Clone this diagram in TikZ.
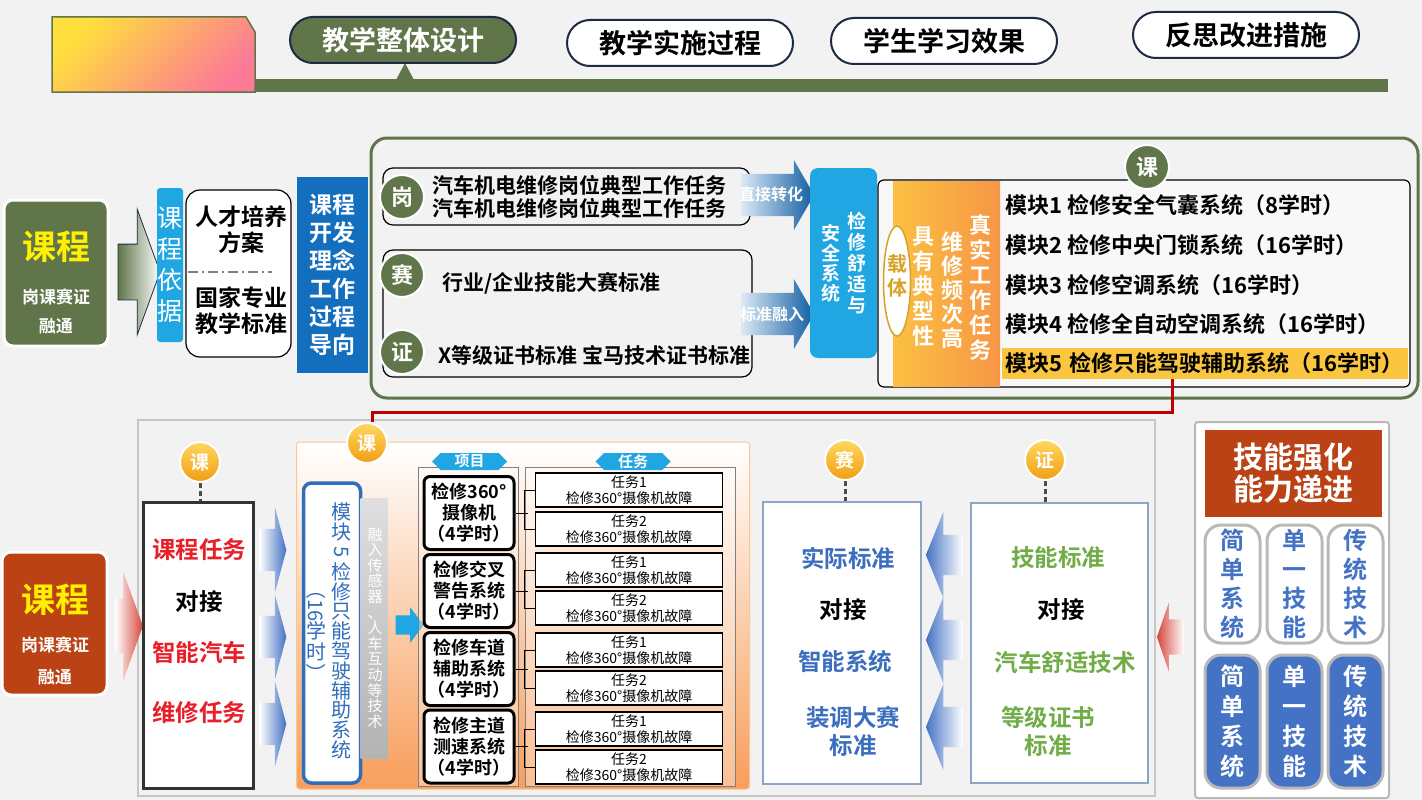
\documentclass[tikz,border=0pt]{standalone}
\usepackage{fontspec}
\usepackage{graphicx}
\setmainfont{Noto Sans CJK SC}[BoldFont={Noto Sans CJK SC Bold}]
\usetikzlibrary{shapes.arrows,shapes.symbols,shapes.geometric,positioning}

\newcommand\fsz[2]{\fontsize{#1}{#2}\selectfont}
\newcommand\rot[1]{\rotatebox[origin=c]{-90}{#1}}

\definecolor{bgray}{RGB}{242,242,242}
\definecolor{kolive}{RGB}{96,117,73}
\definecolor{knavy}{RGB}{30,42,66}
\definecolor{gyel}{RGB}{255,224,60}
\definecolor{gpink}{RGB}{252,122,150}
\definecolor{kyellow}{RGB}{255,240,0}
\definecolor{skyb}{RGB}{32,166,226}
\definecolor{deepb}{RGB}{20,110,190}
\definecolor{rust}{RGB}{186,66,20}
\definecolor{amber}{RGB}{250,192,66}
\definecolor{korange}{RGB}{247,150,70}
\definecolor{kgold}{RGB}{214,162,40}
\definecolor{hlyellow}{RGB}{250,198,64}
\definecolor{redline}{RGB}{192,0,0}
\definecolor{goldtop}{RGB}{255,216,96}
\definecolor{goldbot}{RGB}{240,158,20}
\definecolor{kred}{RGB}{214,70,60}
\definecolor{txtred}{RGB}{232,30,40}
\definecolor{cblue}{RGB}{68,114,196}
\definecolor{modblue}{RGB}{47,110,186}
\definecolor{boxblue}{RGB}{140,165,200}
\definecolor{stdblue}{RGB}{59,110,190}
\definecolor{stdgreen}{RGB}{112,173,71}
\definecolor{panelor}{RGB}{248,158,92}

\begin{document}
\begin{tikzpicture}[x=1pt,y=-1pt,
  pill/.style={rectangle, rounded corners=23pt, draw=knavy, line width=2pt, fill=white,
    minimum width=226pt, minimum height=46pt, font=\fsz{27}{30}\bfseries},
  headbox/.style={rectangle, rounded corners=9pt, draw=white, line width=3pt,
    minimum width=104pt, minimum height=146pt},
  olivec/.style={circle, fill=kolive, draw=white, line width=2pt, minimum size=44pt,
    inner sep=0pt, text=white, font=\fsz{22}{24}\bfseries},
  goldc/.style={circle, top color=goldtop, bottom color=goldbot, draw=white, line width=2pt,
    minimum size=40pt, inner sep=0pt, text=white, font=\fsz{19}{20}\bfseries},
  vtext/.style={align=center, inner sep=0pt},
  rowbox/.style={rectangle, draw=black, line width=1.2pt, rounded corners=10pt},
  band/.style={anchor=west, align=left, inner sep=0pt, font=\fsz{21}{23}\bfseries},
  modline/.style={anchor=west, inner sep=3pt, font=\fsz{22}{22}\bfseries},
  blockarrow/.style={single arrow, inner xsep=0pt, inner ysep=#1},
  barrow/.style={blockarrow=21pt, minimum height=73pt,
    single arrow head extend=14pt, single arrow tip angle=120,
    left color=deepb!15, right color=deepb!85!black},
  arrowtxt/.style={text=white, font=\fsz{16}{18}\bfseries},
  chev/.style={blockarrow=21pt, minimum height=27pt,
    single arrow head extend=22pt, single arrow tip angle=150,
    left color=white, right color=cblue},
  chevl/.style={blockarrow=20pt, shape border rotate=180, minimum height=37pt,
    single arrow head extend=23pt, single arrow tip angle=136,
    left color=cblue, right color=white},
  btext/.style={font=\fsz{23.5}{28}\bfseries, align=center},
  proj/.style={draw, line width=3pt, rounded corners=6pt, fill=white, minimum width=90pt,
    minimum height=73pt, align=center, inner sep=0pt, font=\fsz{18}{21}\bfseries},
  task/.style={draw, line width=1.2pt, fill=white, minimum width=187pt, minimum height=34pt,
    align=center, inner sep=0pt, font=\fsz{14}{16}},
  banner/.style={signal, signal to=east and west, fill=skyb, minimum width=75pt,
    minimum height=17pt, inner sep=0pt, text=white, font=\fsz{15}{15}\bfseries},
  wpill/.style={draw=gray!55, line width=3pt, fill=white, rounded corners=16pt, minimum width=55pt,
    minimum height=118pt, align=center, inner sep=0pt, text=cblue, font=\fsz{24}{29}\bfseries},
  bpill/.style={wpill, fill=cblue, minimum height=133pt, text=white, font=\fsz{24}{30}\bfseries},
  dashc/.style={gray!60!black, line width=3pt, dash pattern=on 5pt off 3pt}
]
\fill[bgray] (0,0) rectangle (1422,800);

% top bar
\shade[draw=kolive, line width=1.5pt, top color=gyel, bottom color=gpink, shading angle=45]
  (52,17) -- (246,17) -- (255,32) -- (255,92) -- (52,92) -- cycle;
\fill[kolive] (255,79) rectangle (1388,92);
\fill[kolive] (396,80) -- (405,63) -- (414,80) -- cycle;
\node[pill, fill=kolive, text=white] (design) at (403,40) {教学整体设计};
\node[pill] (impl) at (680,43) {教学实施过程};
\node[pill] (effect) at (944,41) {学生学习效果};
\node[pill] (reflect) at (1246,35) {反思改进措施};

% middle
\node[headbox, fill=kolive] (kc1) at (56,273) {};
\node[font=\fsz{34}{38}\bfseries, text=kyellow] (kc1t) at (56,247) {课程};
\node[align=center, text=white, font=\fsz{17}{29}\bfseries] (kc1s) at (56,311) {岗课赛证\\融通};
\node[blockarrow=27.5pt, minimum height=42pt, single arrow head extend=35pt,
  single arrow tip angle=140, left color=kolive, right color=white, draw=knavy,
  line width=0.8pt] (ar1) at (134,272) {};
\node[fill=skyb, rounded corners=3pt, minimum width=26pt, minimum height=154pt, text=white,
  font=\fsz{25}{31}, align=center, inner sep=0pt] (basis) at (170,265) {课\\程\\依\\据};
\node[draw, line width=1.2pt, fill=white, rounded corners=14pt, minimum width=105pt,
  minimum height=167pt] (plan) at (238.5,273.5) {};
\node[align=center, font=\fsz{23}{26}\bfseries] (plan1) at (241,230) {人才培养\\方案};
\node[align=center, font=\fsz{23}{26}\bfseries] (plan2) at (241,311) {国家专业\\教学标准};
\draw[gray, line width=1.2pt, dash pattern=on 10pt off 4pt on 2pt off 4pt] (188,272) -- (272,272);
\node[fill=deepb, minimum width=71pt, minimum height=196pt, text=white, align=center,
  font=\fsz{23}{28}\bfseries] (idea) at (332.5,275) {课程\\开发\\理念\\工作\\过程\\导向};

\draw[kolive, line width=3pt, rounded corners=16pt] (371,138) rectangle (1418,398);
\node[rowbox, minimum width=367pt, minimum height=57pt] (gangbox) at (566.5,196.5) {};
\node[band] (gangt) at (432,197) {汽车机电维修岗位典型工作任务\\汽车机电维修岗位典型工作任务};
\node[olivec] (gang) at (402,197) {岗};
\node[rowbox, minimum width=369pt, minimum height=127pt] (saibox) at (567.5,313.5) {};
\node[band] (sait) at (442,283) {行业/企业技能大赛标准};
\node[band] (zhengt) at (438,355) {X等级证书标准\ 宝马技术证书标准};
\node[olivec] (sai) at (402,275) {赛};
\node[olivec] (zheng) at (402,352) {证};

\node[barrow] (zhuan) at (771.5,195) {};
\node[arrowtxt] (zhuant) at (771,194) {直接转化};
\node[barrow] (rong) at (771.5,314) {};
\node[arrowtxt] (rongt) at (772,314) {标准融入};

\node[fill=skyb, rounded corners=8pt, minimum width=67pt, minimum height=190pt] (sys) at (843.5,263) {};
\node[vtext, text=white, font=\fsz{19}{21}\bfseries] (sys1) at (857,263) {检\\修\\舒\\适\\与};
\node[vtext, text=white, font=\fsz{19}{20}\bfseries] (sys2) at (831,263) {安\\全\\系\\统};

\node[draw, line width=1.2pt, rounded corners=6pt, fill=white!50!bgray, minimum width=532pt,
  minimum height=207pt] (modbox) at (1144,283.5) {};
\shade[left color=amber, right color=korange] (893,181) rectangle (1000,386);
\node[ellipse, draw=kgold, line width=1.5pt, fill=white, minimum width=27pt, minimum height=110pt,
  inner sep=0pt] (zaiti) at (897,281) {};
\node[vtext, text=kgold, font=\fsz{20}{24}\bfseries] (zaitit) at (897,276) {载\\体};
\node[vtext, text=white, font=\fsz{22}{25}\bfseries] (car1) at (980,288) {真\\实\\工\\作\\任\\务};
\node[vtext, text=white, font=\fsz{22}{24}\bfseries] (car2) at (952,290) {维\\修\\频\\次\\高};
\node[vtext, text=white, font=\fsz{22}{25}\bfseries] (car3) at (923,287) {具\\有\\典\\型\\性};

\node[modline] (m1) at (1002,205) {模块1 检修安全气囊系统（8学时）};
\node[modline] (m2) at (1002,245) {模块2 检修中央门锁系统（16学时）};
\node[modline] (m3) at (1002,285) {模块3 检修空调系统（16学时）};
\node[modline] (m4) at (1002,324) {模块4 检修全自动空调系统（16学时）};
\node[modline, fill=hlyellow, text width=400pt, minimum height=31pt] (m5) at (1002,363)
  {模块5 检修只能驾驶辅助系统（16学时）};
\node[olivec] (ke1) at (1147,167) {课};

% bottom
\draw[gray!45, line width=2.5pt] (138,420) rectangle (1155,796);
\node[headbox, fill=rust, minimum width=105pt, minimum height=143pt] (kc2) at (54.5,623.5) {};
\node[font=\fsz{34}{38}\bfseries, text=kyellow] (kc2t) at (55,600) {课程};
\node[align=center, text=white, font=\fsz{17}{32}\bfseries] (kc2s) at (55,661) {岗课赛证\\融通};
\node[blockarrow=27pt, minimum height=28pt, single arrow head extend=27pt,
  single arrow tip angle=140, left color=white, right color=kred] (ar2) at (124,626) {};

\node[draw=gray!40!black, line width=3pt, fill=white, minimum width=110pt, minimum height=286pt] (kebox) at (198,645) {};
\node[goldc] (ke2) at (200,462) {课};
\draw[dashc] (ke2.south) -- (ke2.south |- kebox.north);
\node[btext, text=txtred] (kt1) at (199,550) {课程任务};
\node[btext] (kt2) at (199,602) {对接};
\node[btext, text=txtred] (kt3) at (199,652) {智能汽车};
\node[btext, text=txtred] (kt4) at (199,713) {维修任务};
\node[chev] (kch1) at (270,550) {};
\node[chev] (kch2) at (270,637) {};
\node[chev] (kch3) at (270,724) {};

\node[draw=orange!45, line width=1pt, rounded corners=3pt, top color=white, bottom color=panelor,
  minimum width=453pt, minimum height=347pt] (kepanel) at (523,615.5) {};
\node[goldc] (ke3) at (367,443) {课};
\node[draw=modblue, line width=3.5pt, fill=white, rounded corners=8pt, minimum width=57pt,
  minimum height=300pt] (m5box) at (332,633) {};
\node[vtext, text=modblue, font=\fsz{20}{19.8}] (m5t1) at (341,631)
  {模\\块\\\rot{5}\\检\\修\\只\\能\\驾\\驶\\辅\\助\\系\\统};
\node[vtext, text=modblue, font=\fsz{20}{21}] (m5t2) at (316,631)
  {\rot{（}\\\rot{16}\\学\\时\\\rot{）}};
\node[top color=gray!25, bottom color=gray!60, minimum width=27pt, minimum height=260pt,
  inner sep=0pt] (sensor) at (374,628) {};
\node[vtext, text=white, font=\fsz{15}{15.6}] (sensort) at (375,628)
  {融\\入\\传\\感\\器\\、\\人\\车\\互\\动\\等\\技\\术};
\node[blockarrow=9.5pt, fill=skyb, minimum height=28pt, single arrow head extend=8pt,
  single arrow tip angle=105] (inarrow) at (406,625) {};

\node[draw=gray, line width=0.8pt, fill=white, fill opacity=0.35, minimum width=100pt,
  minimum height=319pt] (xmframe) at (468,627) {};
\node[draw=gray, line width=0.8pt, fill=white, fill opacity=0.35, minimum width=210pt,
  minimum height=319pt] (rwframe) at (630,627) {};
\node[banner] (xm) at (469.5,461.5) {项目};
\node[banner] (rw) at (633,461.5) {任务};

\node[proj] (p1) at (469,513) {检修360°\\摄像机\\（4学时）};
\node[proj] (p2) at (469,591) {检修交叉\\警告系统\\（4学时）};
\node[proj] (p3) at (469,669) {检修车道\\辅助系统\\（4学时）};
\node[proj] (p4) at (469,746.5) {检修主道\\测速系统\\（4学时）};
\foreach \i/\y/\n in {1/490/1,2/529/2,3/570/1,4/608/2,5/650/1,6/688/2,7/729/1,8/767/2}
  \node[task] (t\i) at (629,\y) {任务\n\\检修360°摄像机故障};
\foreach \p/\a/\b in {p1/1/2,p2/3/4,p3/5/6,p4/7/8} {
  \draw[line width=1pt] (t\a.west) -- ++(-10,0) |- (t\b.west);
  \draw[line width=1pt] (\p.east) -- ++(12,0);
}

\node[draw=boxblue, line width=1.2pt, fill=white, minimum width=158pt, minimum height=282pt] (saib) at (842,643) {};
\node[goldc] (ke4) at (845,460) {赛};
\draw[dashc] (ke4.south) -- (ke4.south |- saib.north);
\node[btext, text=stdblue] (st1) at (848,558) {实际标准};
\node[btext] (st2) at (843,610) {对接};
\node[btext, text=stdblue] (st3) at (845,662) {智能系统};
\node[btext, text=stdblue] (st4) at (853,731) {装调大赛\\标准};
\node[chevl] (sch1) at (948.5,555) {};
\node[chevl] (sch2) at (948.5,640) {};
\node[chevl] (sch3) at (948.5,727) {};

\node[draw=boxblue, line width=1.2pt, fill=white, minimum width=177pt, minimum height=280pt] (zhb) at (1059.5,643) {};
\node[goldc] (ke5) at (1045,460) {证};
\draw[dashc] (ke5.south) -- (ke5.south |- zhb.north);
\node[btext, text=stdgreen] (zt1) at (1058,558) {技能标准};
\node[btext] (zt2) at (1061,610) {对接};
\node[btext, text=stdgreen] (zt3) at (1065,662) {汽车舒适技术};
\node[btext, text=stdgreen] (zt4) at (1048,731) {等级证书\\标准};
\node[blockarrow=17.5pt, shape border rotate=180, minimum height=27pt,
  single arrow head extend=17pt, single arrow tip angle=142, left color=kred, right color=white]
  (ar3) at (1173.5,637) {};

\node[draw=gray!55, line width=2pt, fill=white, rounded corners=3pt, minimum width=194pt,
  minimum height=376pt] (skill) at (1292,610) {};
\node[fill=rust, minimum width=177pt, minimum height=87pt, text=white, align=center,
  font=\fsz{30}{32}\bfseries] (skillh) at (1293.5,473.5) {技能强化\\能力递进};
\node[wpill] (w1) at (1232.5,584) {简\\单\\系\\统};
\node[wpill] (w2) at (1294.5,584) {单\\一\\技\\能};
\node[wpill] (w3) at (1355.5,584) {传\\统\\技\\术};
\node[bpill] (b1) at (1232.5,721.5) {简\\单\\系\\统};
\node[bpill] (b2) at (1294.5,721.5) {单\\一\\技\\能};
\node[bpill] (b3) at (1355.5,721.5) {传\\统\\技\\术};

% red link
\coordinate (rturn) at (1172,412);
\draw[redline, line width=3pt] (m5.south -| rturn) -- (rturn) -| ([xshift=5pt]ke3.north);
\end{tikzpicture}
\end{document}
